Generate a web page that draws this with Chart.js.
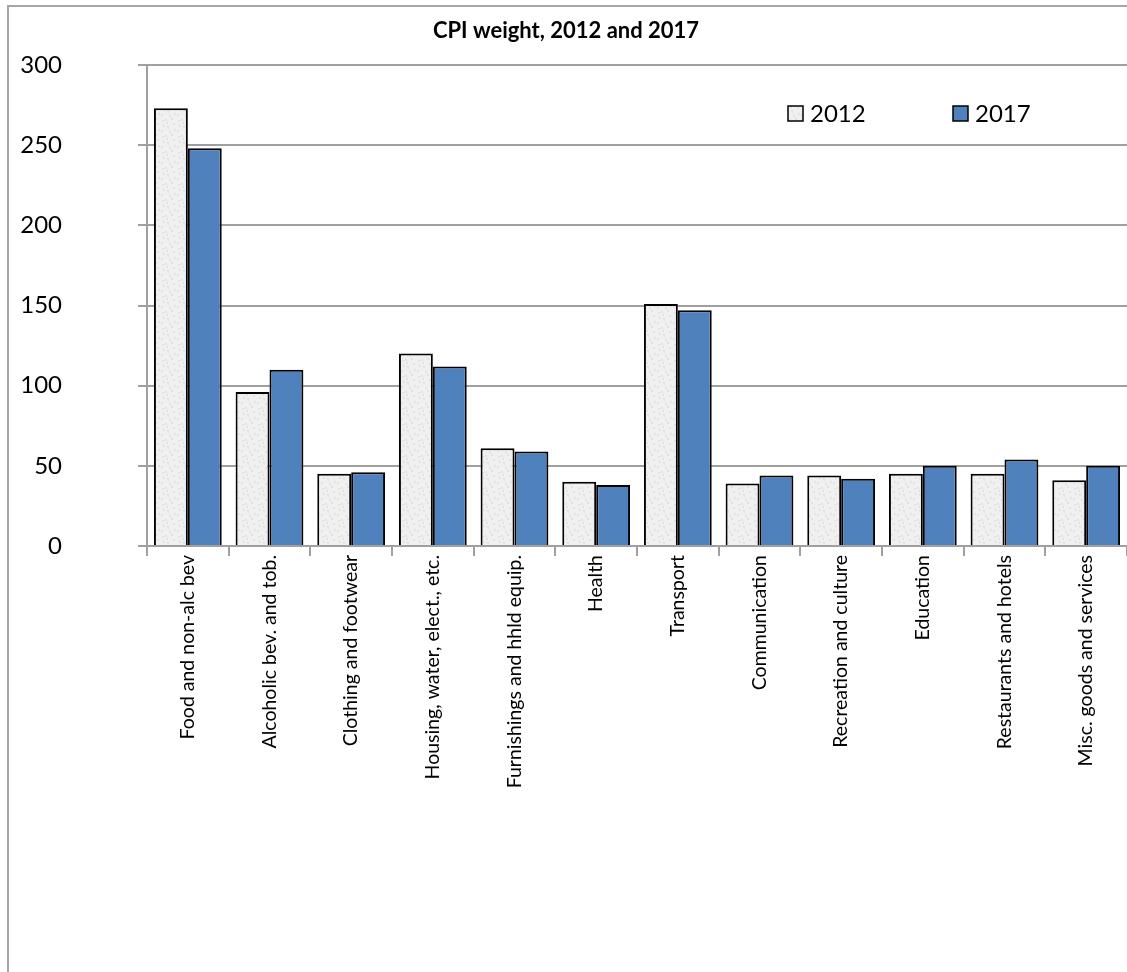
<!DOCTYPE html>
<html>
<head>
<meta charset="utf-8">
<script src="https://cdn.jsdelivr.net/npm/chart.js@4.4.0/dist/chart.umd.min.js"></script>
<style>
  html, body { margin: 0; padding: 0; background: #fff; overflow: hidden; }
  #wrap { position: relative; width: 1127px; height: 972px; }
  #frame { position: absolute; left: 7px; top: 5px; width: 1140px; height: 1000px; border: 2px solid #a6a6a6; }
  canvas { position: absolute; left: 0; top: 0; }
</style>
</head>
<body>
<div id="wrap">
  <div id="frame"></div>
  <canvas id="cpi" width="1127" height="972"></canvas>
</div>
<script>
const categories = [
  "Food and non-alc bev",
  "Alcoholic bev. and tob.",
  "Clothing and footwear",
  "Housing, water, elect., etc.",
  "Furnishings and hhld equip.",
  "Health",
  "Transport",
  "Communication",
  "Recreation and culture",
  "Education",
  "Restaurants and hotels",
  "Misc. goods and services"
];
const weights2012 = [273, 96, 45, 120, 61, 40, 151, 39, 44, 45, 45, 41];
const weights2017 = [248, 110, 46, 112, 59, 38, 147, 44, 42, 50, 54, 50];
const yTicks = [0, 50, 100, 150, 200, 250, 300];

const FONT = "Lato, 'Open Sans', sans-serif";

// light grey speckled fill like the original
function speckle() {
  const c = document.createElement("canvas");
  c.width = 16; c.height = 16;
  const g = c.getContext("2d");
  g.fillStyle = "#f0f0f0";
  g.fillRect(0, 0, 16, 16);
  g.fillStyle = "#e2e2e2";
  const dots = [[1,2],[5,7],[9,3],[13,11],[3,13],[11,6],[7,14],[14,1],[6,10],[2,8]];
  dots.forEach(([x, y]) => g.fillRect(x, y, 2, 2));
  return g.createPattern(c, "repeat");
}

const titlePlugin = {
  id: "titleText",
  afterDraw(chart) {
    const ctx = chart.ctx;
    ctx.save();
    ctx.font = "bold 22px " + FONT;
    ctx.fillStyle = "#000";
    ctx.textAlign = "center";
    ctx.textBaseline = "middle";
    ctx.fillText("CPI weight, 2012 and 2017", 566, 31);
    ctx.restore();
  }
};

const legendPlugin = {
  id: "boxLegend",
  afterDraw(chart) {
    const ctx = chart.ctx;
    const spots = [788, 953];
    ctx.save();
    ctx.font = "24px " + FONT;
    ctx.textBaseline = "middle";
    chart.data.datasets.forEach((ds, i) => {
      const x = spots[i];
      ctx.fillStyle = ds.backgroundColor;
      ctx.fillRect(x, 106, 15, 15);
      ctx.lineWidth = 1.5;
      ctx.strokeStyle = "#000";
      ctx.strokeRect(x, 106, 15, 15);
      ctx.fillStyle = "#000";
      ctx.fillText(ds.label, x + 22, 114);
    });
    ctx.restore();
  }
};

const ctx = document.getElementById("cpi").getContext("2d");
new Chart(ctx, {
  type: "bar",
  data: {
    labels: categories,
    datasets: [
      {
        label: "2012",
        data: weights2012,
        backgroundColor: speckle(),
        borderColor: "#000",
        borderWidth: 2,
        barPercentage: 1,
        categoryPercentage: 0.83
      },
      {
        label: "2017",
        data: weights2017,
        backgroundColor: "#4f81bd",
        borderColor: "#000",
        borderWidth: 2,
        barPercentage: 1,
        categoryPercentage: 0.83
      }
    ]
  },
  options: {
    responsive: false,
    animation: false,
    layout: { padding: { top: 65, left: 0, right: 0, bottom: 0 } },
    plugins: {
      legend: { display: false },
      tooltip: { enabled: false },
      title: { display: false }
    },
    scales: {
      x: {
        offset: true,
        grid: {
          offset: true,
          drawOnChartArea: false,
          drawTicks: true,
          tickLength: 10,
          color: "#a0a0a0",
          lineWidth: 2
        },
        border: { color: "#a0a0a0", width: 2 },
        ticks: {
          minRotation: 90,
          maxRotation: 90,
          autoSkip: false,
          padding: -1,
          color: "#000",
          font: { family: FONT, size: 19.5 }
        },
        afterFit(scale) { scale.height = 426; }
      },
      y: {
        min: 0,
        max: 300,
        afterBuildTicks(scale) { scale.ticks = yTicks.map(v => ({ value: v })); },
        grid: { color: "#a0a0a0", lineWidth: 2, tickLength: 9 },
        border: { color: "#a0a0a0", width: 2 },
        ticks: {
          padding: 76,
          color: "#000",
          font: { family: FONT, size: 24 }
        },
        afterFit(scale) {
          scale.width = 147;
          scale.paddingTop = 12;
          scale.paddingBottom = 12;
        }
      }
    }
  },
  plugins: [titlePlugin, legendPlugin]
});
</script>
</body>
</html>
